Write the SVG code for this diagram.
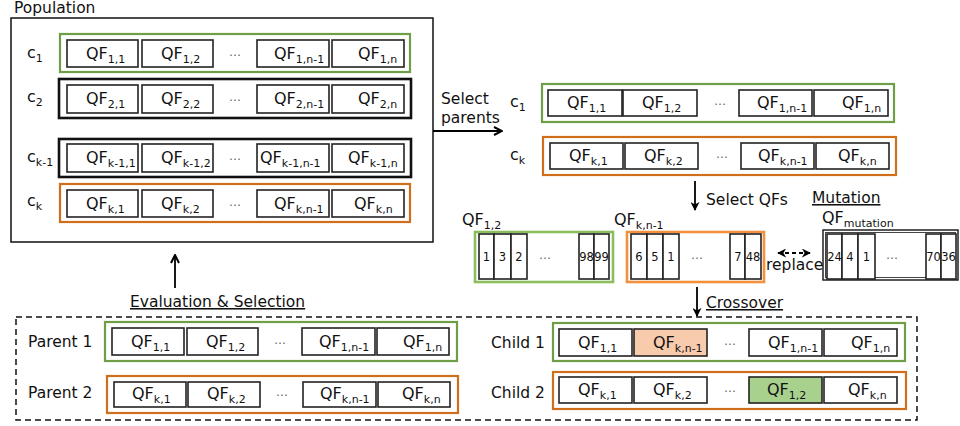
<svg xmlns="http://www.w3.org/2000/svg" width="960" height="426" viewBox="0 0 960 426">
  <style>
    text { font-family: "DejaVu Sans", "Liberation Sans", sans-serif; fill: #111; }
    .lbl { font-size: 15.5px; }
    .qf { font-size: 16px; }
    .sub { font-size: 11px; }
    .num { font-size: 11.5px; text-anchor: middle; }
    .dots { font-size: 12px; fill: #666; text-anchor: middle; }
    .cell { fill: #fff; stroke: #222; stroke-width: 1.6; }
    .g-frame { fill: none; stroke: #6F9E47; stroke-width: 2.2; }
    .o-frame { fill: none; stroke: #CF6E1D; stroke-width: 2.2; }
    .k-frame { fill: none; stroke: #111; stroke-width: 2.6; }
    .g-lite { fill: none; stroke: #8BBE5E; stroke-width: 2.6; }
    .o-lite { fill: none; stroke: #F4913F; stroke-width: 2.6; }
    .conn { stroke: #000; stroke-width: 1.8; fill: none; }
  </style>
  <defs>
    <marker id="ah" viewBox="0 0 10 10" refX="9" refY="5" markerWidth="10" markerHeight="10" markerUnits="userSpaceOnUse" orient="auto-start-reverse">
      <path d="M1,1 L9,5 L1,9" fill="none" stroke="#000" stroke-width="2"/>
    </marker>
    <marker id="ahf" viewBox="0 0 10 10" refX="9" refY="5" markerWidth="9" markerHeight="9" markerUnits="userSpaceOnUse" orient="auto-start-reverse">
      <path d="M0,0 L10,5 L0,10 L3,5 Z" fill="#000"/>
    </marker>
  </defs>

  <!-- Population -->
  <g id="population">
    <text class="lbl" x="14" y="13">Population</text>
    <rect x="11" y="18" width="422" height="224" fill="none" stroke="#111" stroke-width="1.5"/>

    <g id="pop-c1">
      <text class="qf" x="27" y="58">c<tspan class="sub" dy="4">1</tspan></text>
      <rect class="g-frame" x="60" y="34" width="350" height="38"/>
      <rect class="cell" x="67" y="40" width="71" height="27"/>
      <rect class="cell" x="142" y="40" width="71" height="27"/>
      <rect class="cell" x="257" y="40" width="72" height="27"/>
      <rect class="cell" x="332" y="40" width="72" height="27"/>
      <text class="qf" x="86" y="59">QF<tspan class="sub" dy="4">1,1</tspan></text>
      <text class="qf" x="161" y="59">QF<tspan class="sub" dy="4">1,2</tspan></text>
      <text class="dots" x="235" y="56">…</text>
      <text class="qf" x="274" y="59">QF<tspan class="sub" dy="4">1,n-1</tspan></text>
      <text class="qf" x="358" y="59">QF<tspan class="sub" dy="4">1,n</tspan></text>
    </g>

    <g id="pop-c2">
      <text class="qf" x="27" y="102">c<tspan class="sub" dy="4">2</tspan></text>
      <rect class="k-frame" x="59" y="79" width="352" height="39"/>
      <rect class="cell" x="67" y="85" width="71" height="28"/>
      <rect class="cell" x="142" y="85" width="71" height="28"/>
      <rect class="cell" x="257" y="85" width="72" height="28"/>
      <rect class="cell" x="332" y="85" width="72" height="28"/>
      <text class="qf" x="86" y="104">QF<tspan class="sub" dy="4">2,1</tspan></text>
      <text class="qf" x="161" y="104">QF<tspan class="sub" dy="4">2,2</tspan></text>
      <text class="dots" x="235" y="101">…</text>
      <text class="qf" x="274" y="104">QF<tspan class="sub" dy="4">2,n-1</tspan></text>
      <text class="qf" x="358" y="104">QF<tspan class="sub" dy="4">2,n</tspan></text>
    </g>

    <g id="pop-ck1">
      <text class="qf" x="27" y="162">c<tspan class="sub" dy="4">k-1</tspan></text>
      <rect class="k-frame" x="59" y="139" width="352" height="38"/>
      <rect class="cell" x="67" y="144" width="71" height="28"/>
      <rect class="cell" x="142" y="144" width="71" height="28"/>
      <rect class="cell" x="257" y="144" width="72" height="28"/>
      <rect class="cell" x="332" y="144" width="72" height="28"/>
      <text class="qf" x="86" y="163">QF<tspan class="sub" dy="4">k-1,1</tspan></text>
      <text class="qf" x="161" y="163">QF<tspan class="sub" dy="4">k-1,2</tspan></text>
      <text class="dots" x="235" y="160">…</text>
      <text class="qf" x="260" y="163">QF<tspan class="sub" dy="4">k-1,n-1</tspan></text>
      <text class="qf" x="348" y="163">QF<tspan class="sub" dy="4">k-1,n</tspan></text>
    </g>

    <g id="pop-ck">
      <text class="qf" x="27" y="206">c<tspan class="sub" dy="4">k</tspan></text>
      <rect class="o-frame" x="60" y="184" width="350" height="38"/>
      <rect class="cell" x="67" y="190" width="71" height="27"/>
      <rect class="cell" x="142" y="190" width="71" height="27"/>
      <rect class="cell" x="257" y="190" width="72" height="27"/>
      <rect class="cell" x="332" y="190" width="72" height="27"/>
      <text class="qf" x="86" y="209">QF<tspan class="sub" dy="4">k,1</tspan></text>
      <text class="qf" x="161" y="209">QF<tspan class="sub" dy="4">k,2</tspan></text>
      <text class="dots" x="235" y="206">…</text>
      <text class="qf" x="274" y="209">QF<tspan class="sub" dy="4">k,n-1</tspan></text>
      <text class="qf" x="354" y="209">QF<tspan class="sub" dy="4">k,n</tspan></text>
    </g>
  </g>

  <!-- Selected parents -->
  <g id="sel-c1">
    <text class="qf" x="510" y="107">c<tspan class="sub" dy="4">1</tspan></text>
    <rect class="g-frame" x="542" y="84" width="352" height="38"/>
    <rect class="cell" x="548" y="90" width="74" height="26"/>
    <rect class="cell" x="623" y="90" width="74" height="26"/>
    <rect class="cell" x="739" y="90" width="73" height="26"/>
    <rect class="cell" x="814" y="90" width="74" height="26"/>
    <text class="qf" x="567" y="108">QF<tspan class="sub" dy="4">1,1</tspan></text>
    <text class="qf" x="642" y="108">QF<tspan class="sub" dy="4">1,2</tspan></text>
    <text class="dots" x="720" y="105">…</text>
    <text class="qf" x="757" y="108">QF<tspan class="sub" dy="4">1,n-1</tspan></text>
    <text class="qf" x="842" y="108">QF<tspan class="sub" dy="4">1,n</tspan></text>
  </g>

  <g id="sel-ck">
    <text class="qf" x="510" y="160">c<tspan class="sub" dy="4">k</tspan></text>
    <rect class="o-frame" x="543" y="137" width="353" height="38"/>
    <rect class="cell" x="550" y="143" width="73" height="26"/>
    <rect class="cell" x="625" y="143" width="73" height="26"/>
    <rect class="cell" x="741" y="143" width="73" height="26"/>
    <rect class="cell" x="816" y="143" width="73" height="26"/>
    <text class="qf" x="569" y="161">QF<tspan class="sub" dy="4">k,1</tspan></text>
    <text class="qf" x="644" y="161">QF<tspan class="sub" dy="4">k,2</tspan></text>
    <text class="dots" x="722" y="158">…</text>
    <text class="qf" x="758" y="161">QF<tspan class="sub" dy="4">k,n-1</tspan></text>
    <text class="qf" x="838" y="161">QF<tspan class="sub" dy="4">k,n</tspan></text>
  </g>

  <!-- Selected QF gene arrays -->
  <g id="qf-1-2">
    <text class="qf" x="462" y="225">QF<tspan class="sub" dy="4">1,2</tspan></text>
    <rect class="g-lite" x="475" y="232" width="138" height="50"/>
    <rect class="cell" x="479" y="234" width="15" height="45"/>
    <rect class="cell" x="494" y="234" width="17" height="45"/>
    <rect class="cell" x="511" y="234" width="16" height="45"/>
    <rect class="cell" x="579" y="234" width="15" height="45"/>
    <rect class="cell" x="594" y="234" width="15" height="45"/>
    <text class="num" x="486.5" y="261">1</text>
    <text class="num" x="502.5" y="261">3</text>
    <text class="num" x="519" y="261">2</text>
    <text class="dots" x="545" y="259">…</text>
    <text class="num" x="586.5" y="261">98</text>
    <text class="num" x="601.5" y="261">99</text>
  </g>

  <g id="qf-k-n1">
    <text class="qf" x="614" y="225">QF<tspan class="sub" dy="4">k,n-1</tspan></text>
    <rect class="o-lite" x="627" y="232" width="137" height="50"/>
    <rect class="cell" x="631" y="234" width="16" height="45"/>
    <rect class="cell" x="647" y="234" width="16" height="45"/>
    <rect class="cell" x="663" y="234" width="16" height="45"/>
    <rect class="cell" x="730" y="234" width="15" height="45"/>
    <rect class="cell" x="745" y="234" width="16" height="45"/>
    <text class="num" x="639" y="261">6</text>
    <text class="num" x="655" y="261">5</text>
    <text class="num" x="671" y="261">1</text>
    <text class="dots" x="697" y="259">…</text>
    <text class="num" x="738" y="261">7</text>
    <text class="num" x="753" y="261">48</text>
  </g>

  <g id="qf-mutation">
    <text class="lbl" x="812" y="203" text-decoration="underline">Mutation</text>
    <text class="qf" x="822" y="223">QF<tspan class="sub" dy="4">mutation</tspan></text>
    <rect x="823" y="230" width="135" height="50" fill="none" stroke="#222" stroke-width="1.5"/>
    <rect x="825.5" y="232.5" width="130" height="45" fill="none" stroke="#444" stroke-width="1"/>
    <rect class="cell" x="827" y="234" width="15" height="45"/>
    <rect class="cell" x="842" y="234" width="16" height="45"/>
    <rect class="cell" x="858" y="234" width="17" height="45"/>
    <rect class="cell" x="926" y="234" width="15" height="45"/>
    <rect class="cell" x="941" y="234" width="15" height="45"/>
    <text class="num" x="834.5" y="261">24</text>
    <text class="num" x="850" y="261">4</text>
    <text class="num" x="866.5" y="261">1</text>
    <text class="dots" x="892" y="259">…</text>
    <text class="num" x="933.5" y="261">70</text>
    <text class="num" x="948.5" y="261">36</text>
  </g>

  <!-- Offspring and parents after crossover -->
  <g id="generation">
    <rect x="16" y="317" width="901" height="103" fill="none" stroke="#111" stroke-width="1.5" stroke-dasharray="6 4"/>
  </g>

  <g id="parent-1">
    <text class="lbl" x="28" y="347">Parent 1</text>
    <rect class="g-frame" x="105" y="322" width="352" height="39"/>
    <rect class="cell" x="112" y="328" width="72" height="27"/>
    <rect class="cell" x="187" y="328" width="71" height="27"/>
    <rect class="cell" x="302" y="328" width="73" height="27"/>
    <rect class="cell" x="377" y="328" width="72" height="27"/>
    <text class="qf" x="131" y="347">QF<tspan class="sub" dy="4">1,1</tspan></text>
    <text class="qf" x="206" y="347">QF<tspan class="sub" dy="4">1,2</tspan></text>
    <text class="dots" x="280" y="344">…</text>
    <text class="qf" x="319" y="347">QF<tspan class="sub" dy="4">1,n-1</tspan></text>
    <text class="qf" x="403" y="347">QF<tspan class="sub" dy="4">1,n</tspan></text>
  </g>

  <g id="parent-2">
    <text class="lbl" x="28" y="398">Parent 2</text>
    <rect class="o-frame" x="107" y="376" width="351" height="37"/>
    <rect class="cell" x="114" y="382" width="72" height="25"/>
    <rect class="cell" x="188" y="382" width="72" height="25"/>
    <rect class="cell" x="303" y="382" width="73" height="25"/>
    <rect class="cell" x="378" y="382" width="72" height="25"/>
    <text class="qf" x="132" y="399">QF<tspan class="sub" dy="4">k,1</tspan></text>
    <text class="qf" x="207" y="399">QF<tspan class="sub" dy="4">k,2</tspan></text>
    <text class="dots" x="282" y="396">…</text>
    <text class="qf" x="320" y="399">QF<tspan class="sub" dy="4">k,n-1</tspan></text>
    <text class="qf" x="402" y="399">QF<tspan class="sub" dy="4">k,n</tspan></text>
  </g>

  <g id="child-1">
    <text class="lbl" x="491" y="348">Child 1</text>
    <rect class="g-frame" x="553" y="323" width="352" height="38"/>
    <rect class="cell" x="559" y="329" width="73" height="27"/>
    <rect class="cell" x="634" y="329" width="73" height="27" style="fill:#F8CBAD"/>
    <rect class="cell" x="749" y="329" width="73" height="27"/>
    <rect class="cell" x="824" y="329" width="73" height="27"/>
    <text class="qf" x="578" y="348">QF<tspan class="sub" dy="4">1,1</tspan></text>
    <text class="qf" x="653" y="348">QF<tspan class="sub" dy="4">k,n-1</tspan></text>
    <text class="dots" x="730" y="345">…</text>
    <text class="qf" x="768" y="348">QF<tspan class="sub" dy="4">1,n-1</tspan></text>
    <text class="qf" x="851" y="348">QF<tspan class="sub" dy="4">1,n</tspan></text>
  </g>

  <g id="child-2">
    <text class="lbl" x="491" y="398">Child 2</text>
    <rect class="o-frame" x="553" y="372" width="353" height="37"/>
    <rect class="cell" x="559" y="377" width="73" height="26"/>
    <rect class="cell" x="634" y="377" width="73" height="26"/>
    <rect class="cell" x="749" y="377" width="73" height="26" style="fill:#A9D18E"/>
    <rect class="cell" x="824" y="377" width="73" height="26"/>
    <text class="qf" x="578" y="395">QF<tspan class="sub" dy="4">k,1</tspan></text>
    <text class="qf" x="653" y="395">QF<tspan class="sub" dy="4">k,2</tspan></text>
    <text class="dots" x="730" y="392">…</text>
    <text class="qf" x="767" y="395">QF<tspan class="sub" dy="4">1,2</tspan></text>
    <text class="qf" x="848" y="395">QF<tspan class="sub" dy="4">k,n</tspan></text>
  </g>

  <!-- Connectors -->
  <g id="connectors">
    <line class="conn" x1="433" y1="131" x2="502" y2="131" marker-end="url(#ah)"/>
    <text class="lbl" x="441" y="104">Select</text>
    <text class="lbl" x="441" y="123">parents</text>

    <line class="conn" x1="695" y1="181" x2="695" y2="210" marker-end="url(#ahf)"/>
    <text class="lbl" x="706" y="205">Select QFs</text>

    <line class="conn" x1="778" y1="253" x2="810" y2="253" stroke-dasharray="4 3" marker-start="url(#ahf)" marker-end="url(#ahf)"/>
    <text class="lbl" x="766" y="270">replace</text>

    <line class="conn" x1="697" y1="287" x2="697" y2="316" marker-end="url(#ahf)"/>
    <text class="lbl" x="706" y="308" text-decoration="underline">Crossover</text>

    <line class="conn" x1="175" y1="288" x2="175" y2="255" marker-end="url(#ah)"/>
    <text class="lbl" x="130" y="307" text-decoration="underline">Evaluation &amp; Selection</text>
  </g>
</svg>
